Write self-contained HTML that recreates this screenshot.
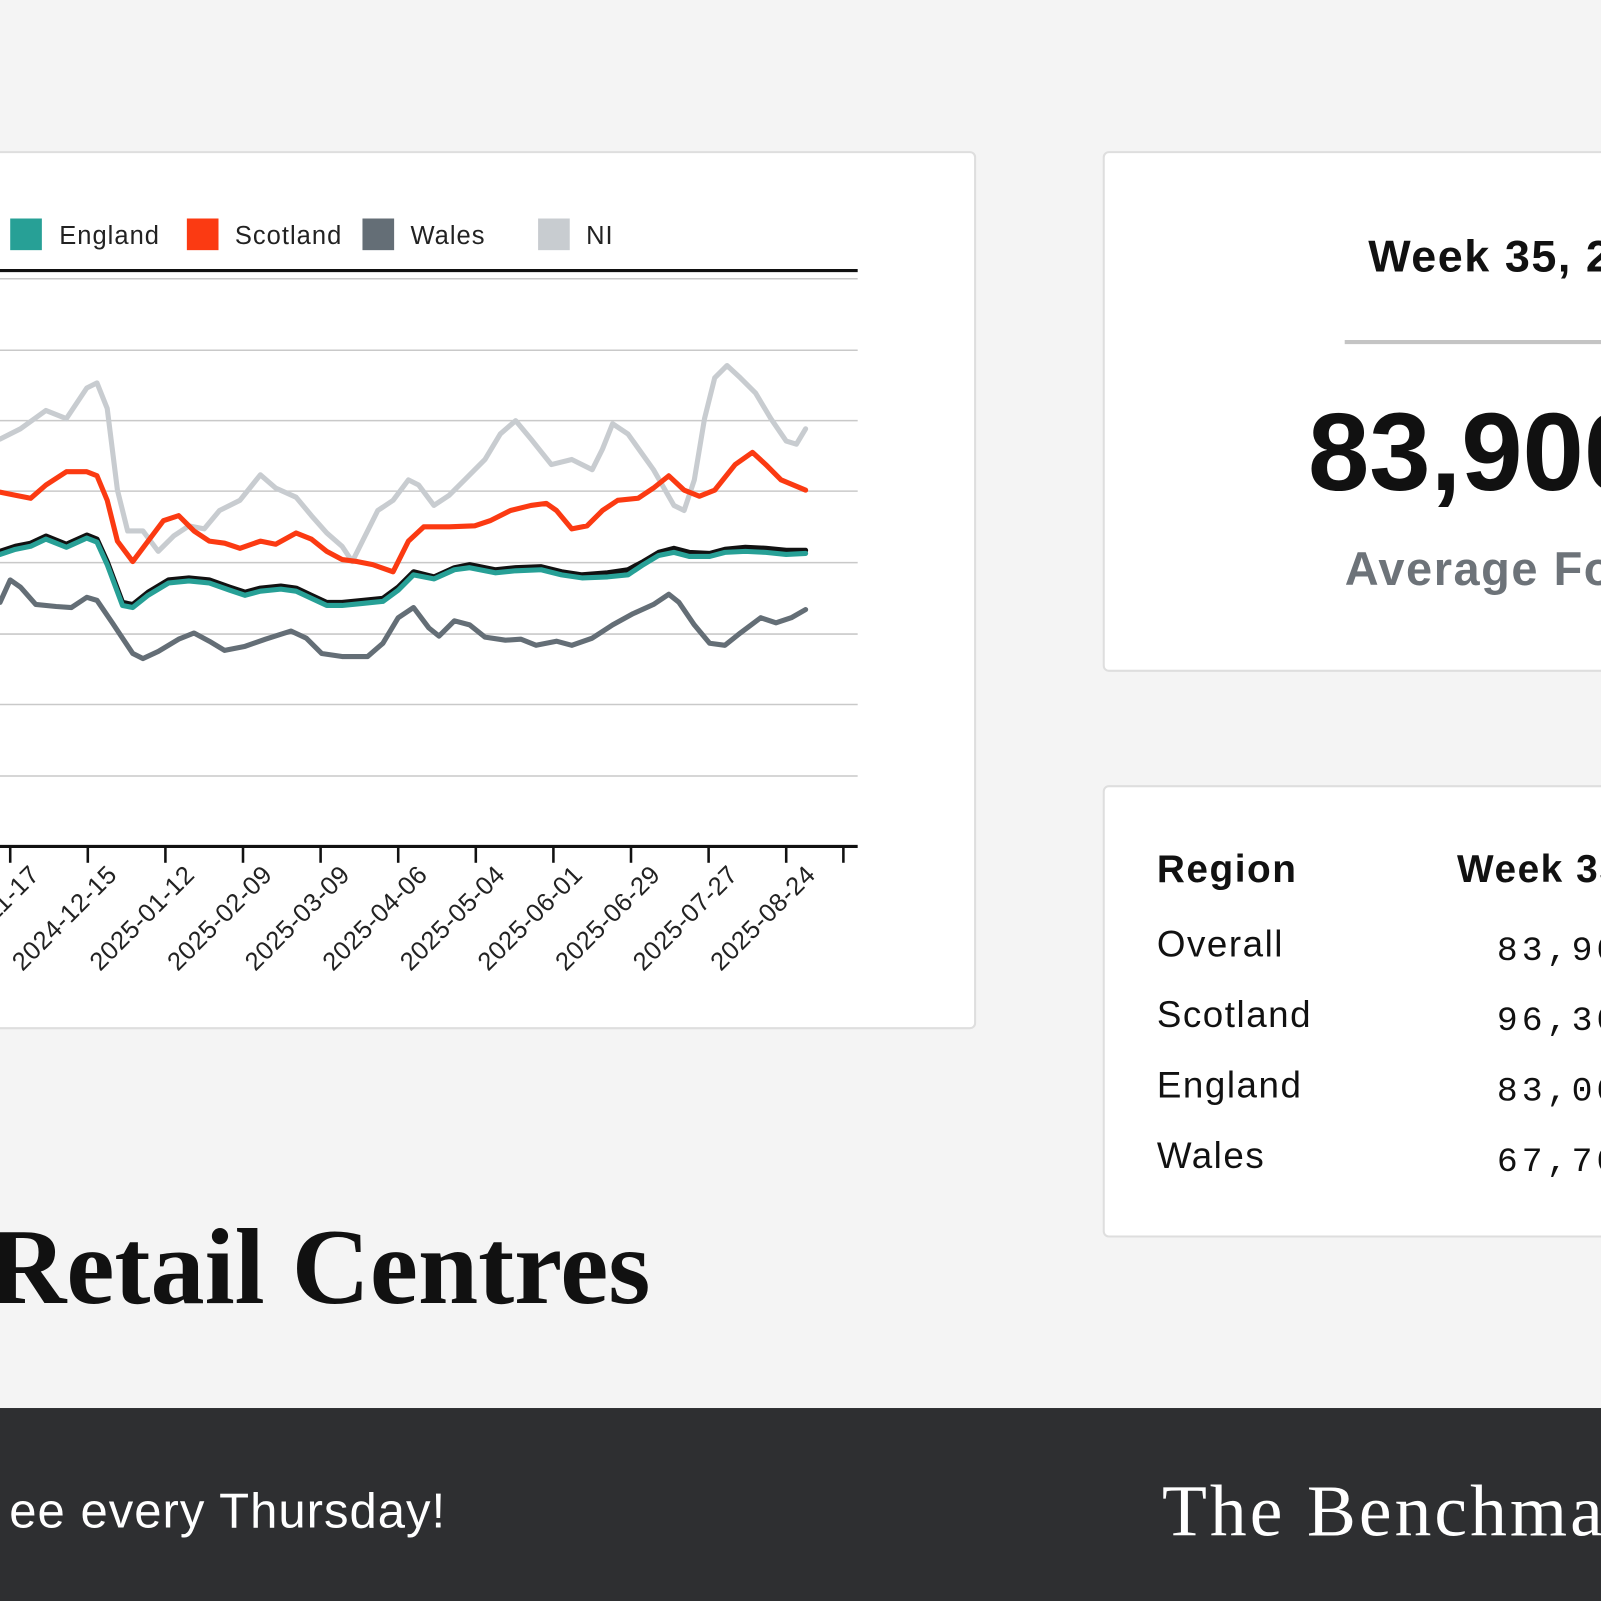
<!DOCTYPE html>
<html><head><meta charset="utf-8"><style>
html,body{margin:0;padding:0;width:1601px;height:1601px;overflow:hidden;background:#f5f5f5}
svg{display:block}
</style></head><body>
<svg width="1601" height="1601" viewBox="0 0 1568 1568" xmlns="http://www.w3.org/2000/svg">
<rect width="1568" height="1568" fill="#f4f4f4"/>
<rect x="-10" y="149" width="965" height="858" rx="5" fill="#fff" stroke="#dedede" stroke-width="2"/>
<g font-family="Liberation Sans, sans-serif" font-size="25" fill="#222" letter-spacing="1">
<rect x="10" y="214" width="31" height="31" fill="#27a096"/><text x="58" y="239">England</text>
<rect x="183" y="214" width="31" height="31" fill="#fb3a12"/><text x="230" y="239">Scotland</text>
<rect x="355" y="214" width="31" height="31" fill="#646e76"/><text x="402" y="239">Wales</text>
<rect x="527" y="214" width="31" height="31" fill="#c8ccd0"/><text x="574" y="239">NI</text>
</g>
<line x1="0" y1="265" x2="840" y2="265" stroke="#111" stroke-width="3"/>
<g stroke="#c9c9c9" stroke-width="1.5">
<line x1="0" y1="273" x2="840" y2="273"/><line x1="0" y1="343" x2="840" y2="343"/>
<line x1="0" y1="412" x2="840" y2="412"/><line x1="0" y1="481" x2="840" y2="481"/>
<line x1="0" y1="551" x2="840" y2="551"/><line x1="0" y1="621" x2="840" y2="621"/>
<line x1="0" y1="690" x2="840" y2="690"/><line x1="0" y1="760" x2="840" y2="760"/>
</g>
<line x1="0" y1="829" x2="840" y2="829" stroke="#111" stroke-width="3"/>
<g stroke="#111" stroke-width="2.5">
<line x1="10" y1="829" x2="10" y2="845"/><line x1="86" y1="829" x2="86" y2="845"/><line x1="162" y1="829" x2="162" y2="845"/><line x1="238" y1="829" x2="238" y2="845"/><line x1="314" y1="829" x2="314" y2="845"/><line x1="390" y1="829" x2="390" y2="845"/><line x1="466" y1="829" x2="466" y2="845"/><line x1="542" y1="829" x2="542" y2="845"/><line x1="618" y1="829" x2="618" y2="845"/><line x1="694" y1="829" x2="694" y2="845"/><line x1="770" y1="829" x2="770" y2="845"/><line x1="826" y1="829" x2="826" y2="845"/>
</g>
<g font-family="Liberation Sans, sans-serif" font-size="25" fill="#222" text-anchor="end" letter-spacing="0.5">
<text transform="translate(40,858) rotate(-45)">2024-11-17</text>
<text transform="translate(116,858) rotate(-45)">2024-12-15</text>
<text transform="translate(192,858) rotate(-45)">2025-01-12</text>
<text transform="translate(268,858) rotate(-45)">2025-02-09</text>
<text transform="translate(344,858) rotate(-45)">2025-03-09</text>
<text transform="translate(420,858) rotate(-45)">2025-04-06</text>
<text transform="translate(496,858) rotate(-45)">2025-05-04</text>
<text transform="translate(572,858) rotate(-45)">2025-06-01</text>
<text transform="translate(648,858) rotate(-45)">2025-06-29</text>
<text transform="translate(724,858) rotate(-45)">2025-07-27</text>
<text transform="translate(800,858) rotate(-45)">2025-08-24</text>
</g>
<g fill="none" stroke-width="5" stroke-linejoin="round" stroke-linecap="round">
<polyline stroke="#c8ccd0" points="0,430 20,420 45,402 65,410 85,380 95,375 105,400 115,480 125,520 140,520 155,540 170,525 185,515 200,518 215,500 235,490 255,465 270,478 290,487 305,505 320,522 335,535 345,550 355,530 370,500 385,490 400,470 410,475 425,495 440,485 455,470 475,450 490,425 505,412 520,430 540,455 560,450 580,460 590,440 600,415 615,425 640,460 660,495 670,500 680,470 690,410 700,370 712,358 725,370 740,385 755,410 770,432 780,435 789,420"/>
<polyline stroke="#fb3a12" points="0,482 15,485 30,488 45,475 65,462 85,462 95,466 105,490 115,530 130,550 145,530 160,510 175,505 190,520 205,530 220,532 235,537 255,530 270,533 290,522 305,528 320,540 335,548 350,550 365,553 385,560 400,530 415,516 440,516 465,515 480,510 500,500 520,495 535,493 545,500 560,518 575,515 590,500 605,490 625,488 640,478 655,466 670,480 685,486 700,480 720,455 737,443 750,455 765,470 789,480"/>
<polyline stroke="#111" points="0,540 15,535 30,532 45,525 65,533 85,524 95,528 105,550 120,590 130,592 145,580 165,568 185,566 205,568 225,575 240,580 255,576 275,574 290,576 305,583 320,590 335,590 355,588 375,586 390,575 405,560 425,565 445,556 460,553 485,558 505,556 530,555 550,560 570,563 595,561 615,558 630,550 645,541 660,537 675,541 695,542 710,538 730,536 750,537 770,539 789,539"/>
<polyline stroke="#27a096" points="0,543 15,538 30,535 45,528 65,536 85,527 95,531 105,553 120,593 130,595 145,583 165,571 185,569 205,571 225,578 240,583 255,579 275,577 290,579 305,586 320,593 335,593 355,591 375,589 390,578 405,563 425,567 445,558 460,556 485,561 505,559 530,558 550,563 570,566 595,565 615,563 630,553 645,544 660,541 675,545 695,545 710,541 730,540 750,541 770,543 789,542"/>
<polyline stroke="#646e76" points="0,590 10,568 20,575 35,592 55,594 70,595 85,585 95,588 110,610 130,640 140,645 155,638 175,626 190,620 205,628 220,637 240,633 260,626 285,618 300,625 315,640 335,643 360,643 375,630 390,605 405,595 420,615 430,623 445,608 460,612 475,624 495,627 510,626 525,632 545,628 560,632 580,625 600,612 620,601 640,592 655,582 665,590 680,612 695,630 710,632 725,620 745,605 760,610 775,605 789,597"/>
</g>
<rect x="1081" y="149" width="520" height="508" rx="5" fill="#fff" stroke="#dedede" stroke-width="2"/>
<text x="1340" y="266" font-family="Liberation Sans, sans-serif" font-size="44" font-weight="bold" fill="#111" letter-spacing="1.5">Week 35, 2025</text>
<line x1="1317" y1="335" x2="1600" y2="335" stroke="#c4c4c4" stroke-width="4"/>
<text x="1281" y="480" font-family="Liberation Sans, sans-serif" font-size="108" font-weight="bold" fill="#111">83,900</text>
<text x="1317" y="573" font-family="Liberation Sans, sans-serif" font-size="46" font-weight="bold" fill="#6d7379" letter-spacing="1.5">Average Footfall</text>
<rect x="1081" y="770" width="520" height="441" rx="5" fill="#fff" stroke="#dedede" stroke-width="2"/>
<g font-family="Liberation Sans, sans-serif" fill="#111" letter-spacing="1.5">
<text x="1133" y="864" font-size="38" font-weight="bold">Region</text>
<text x="1427" y="864" font-size="38" font-weight="bold">Week 35</text>
<g font-size="36"><text x="1133" y="937">Overall</text><text x="1133" y="1006">Scotland</text><text x="1133" y="1075">England</text><text x="1133" y="1144">Wales</text></g>
</g>
<g font-family="Liberation Mono, monospace" font-size="34" fill="#111" letter-spacing="4">
<text x="1466" y="940">83,900</text><text x="1466" y="1009">96,300</text><text x="1466" y="1078">83,000</text><text x="1466" y="1147">67,700</text>
</g>
<text x="637" y="1276" text-anchor="end" font-family="Liberation Serif, serif" font-size="106" font-weight="bold" fill="#111">Retail Centres</text>
<rect x="0" y="1379" width="1568" height="189" fill="#2e2f31"/>
<text x="437" y="1496" text-anchor="end" font-family="Liberation Sans, sans-serif" font-size="48" fill="#fff" letter-spacing="1">ee every Thursday!</text>
<text x="1138" y="1504" font-family="Liberation Serif, serif" font-size="72" fill="#fff" letter-spacing="3">The Benchmark</text>
</svg>
</body></html>
